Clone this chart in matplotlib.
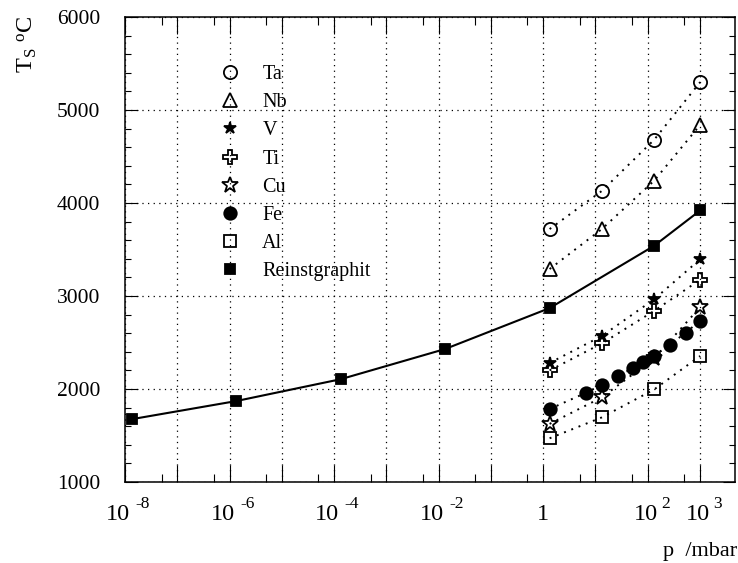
import numpy as np
import matplotlib
matplotlib.use("Agg")
import matplotlib.pyplot as plt
from matplotlib.lines import Line2D
from matplotlib.ticker import FixedLocator, NullFormatter

plt.rcParams['font.family'] = ['Liberation Serif', 'DejaVu Serif']
plt.rcParams['mathtext.fontset'] = 'custom'
plt.rcParams['mathtext.rm'] = 'Liberation Serif'
plt.rcParams['mathtext.it'] = 'Liberation Serif:italic'

# pressures in mbar (1, 10, 100, 760 Torr)
p_std = [1.333, 13.33, 133.3, 1013]
ta = [3720, 4130, 4680, 5300]
nb = [3290, 3720, 4240, 4840]
v = [2280, 2570, 2965, 3395]
ti = [2200, 2490, 2840, 3175]
cu = [1625, 1910, 2330, 2880]
al = [1470, 1695, 1995, 2355]

p_fe = [1.333, 6.666, 13.33, 26.66, 53.33, 80.0, 133.3, 266.6, 533.3, 1013]
fe = [1785, 1960, 2045, 2135, 2230, 2285, 2360, 2475, 2605, 2735]

p_graphit = [1.333e-8, 1.333e-6, 1.333e-4, 1.333e-2, 1.333, 133.3, 1013]
graphit = [1675, 1870, 2105, 2430, 2870, 3540, 3920]

xlabel_exps = [-8, -6, -4, -2, 0, 2, 3]

fig = plt.figure(figsize=(7.38, 5.63), dpi=100)
ax = fig.add_axes([125/738, 81/563, 610/738, 465/563])

dot = (0, (1, 3))
styles = [
    ('Ta', dict(marker='o', ms=9.5, mfc='none')),
    ('Nb', dict(marker='^', ms=10, mfc='none')),
    ('V', dict(marker='*', ms=9, mfc='black')),
    ('Ti', dict(marker='P', ms=10, mfc='none')),
    ('Cu', dict(marker='*', ms=12, mfc='none')),
    ('Fe', dict(marker='o', ms=9, mfc='black')),
    ('Al', dict(marker='s', ms=9, mfc='none')),
    ('Reinstgraphit', dict(marker='s', ms=7.5, mfc='black')),
]
series = {'Ta': (p_std, ta), 'Nb': (p_std, nb), 'V': (p_std, v),
          'Ti': (p_std, ti), 'Cu': (p_std, cu), 'Fe': (p_fe, fe),
          'Al': (p_std, al), 'Reinstgraphit': (p_graphit, graphit)}

handles = []
for name, st in styles:
    x, y = series[name]
    ls, lw = ('-', 1.5) if name == 'Reinstgraphit' else (dot, 1.4)
    ax.plot(x, y, color='black', linestyle=ls, lw=lw, mec='black',
            markeredgewidth=1.3, **st)
    handles.append(Line2D([], [], linestyle='none', color='black', mec='black',
                          markeredgewidth=1.3, label=name, **st))

ax.set_xscale('log')
ax.set_xlim(1e-8, 4.7e3)
ax.set_ylim(1000, 6000)

ax.xaxis.set_major_locator(FixedLocator(10.0 ** np.arange(-8, 4)))
ax.xaxis.set_minor_locator(FixedLocator(5 * 10.0 ** np.arange(-9, 4)))
ax.xaxis.set_major_formatter(NullFormatter())
ax.xaxis.set_minor_formatter(NullFormatter())
ax.yaxis.set_major_locator(FixedLocator(np.arange(1000, 6001, 1000)))
ax.yaxis.set_minor_locator(FixedLocator(np.arange(1000, 6001, 200)))

ax.tick_params(which='both', direction='in', top=True, right=True, width=0.8)
ax.tick_params(axis='x', which='major', length=12)
ax.tick_params(axis='x', which='minor', length=6)
ax.tick_params(axis='y', which='major', length=9)
ax.tick_params(axis='y', which='minor', length=4.5)
ax.tick_params(axis='y', labelsize=15.5, pad=18)
for s in ax.spines.values():
    s.set_linewidth(1.1)

ax.grid(True, which='major', color='black', linestyle=(0, (1, 3.5)), lw=0.9)

# decade labels: base "10" and a raised exponent as two texts
lab_kw = dict(xycoords=('data', 'axes fraction'), textcoords='offset points',
              va='top')
for e in xlabel_exps:
    xy = (10.0 ** e, 0)
    if e == 0:
        ax.annotate('1', xy=xy, xytext=(0, -16), ha='center', fontsize=17.5,
                    **lab_kw)
        continue
    base_dx, exp_dx = (-5, 7.5) if e < 0 else (-1.5, 9.5)
    ax.annotate('10', xy=xy, xytext=(base_dx, -16), ha='center',
                fontsize=17.5, **lab_kw)
    ax.annotate('%d' % e, xy=xy, xytext=(exp_dx, -10), ha='left',
                fontsize=12.5, **lab_kw)

fig.text(737/738, 1 - 542/563, 'p  /mbar', ha='right', va='top', fontsize=16)
fig.text(27/738, 1 - 16/563, r'T$_\mathregular{S}$ $^\mathregular{o}$C',
         rotation=90, ha='center', va='top', fontsize=17.5)

ax.legend(handles=handles, loc='upper left',
          bbox_to_anchor=((220 - 125) / 610, (482 - 65) / 465),
          frameon=False, fontsize=14.5, numpoints=1, handlelength=1.0,
          handletextpad=1.1, borderpad=0, borderaxespad=0, labelspacing=0.45)

fig.savefig('out.png', dpi=100)
